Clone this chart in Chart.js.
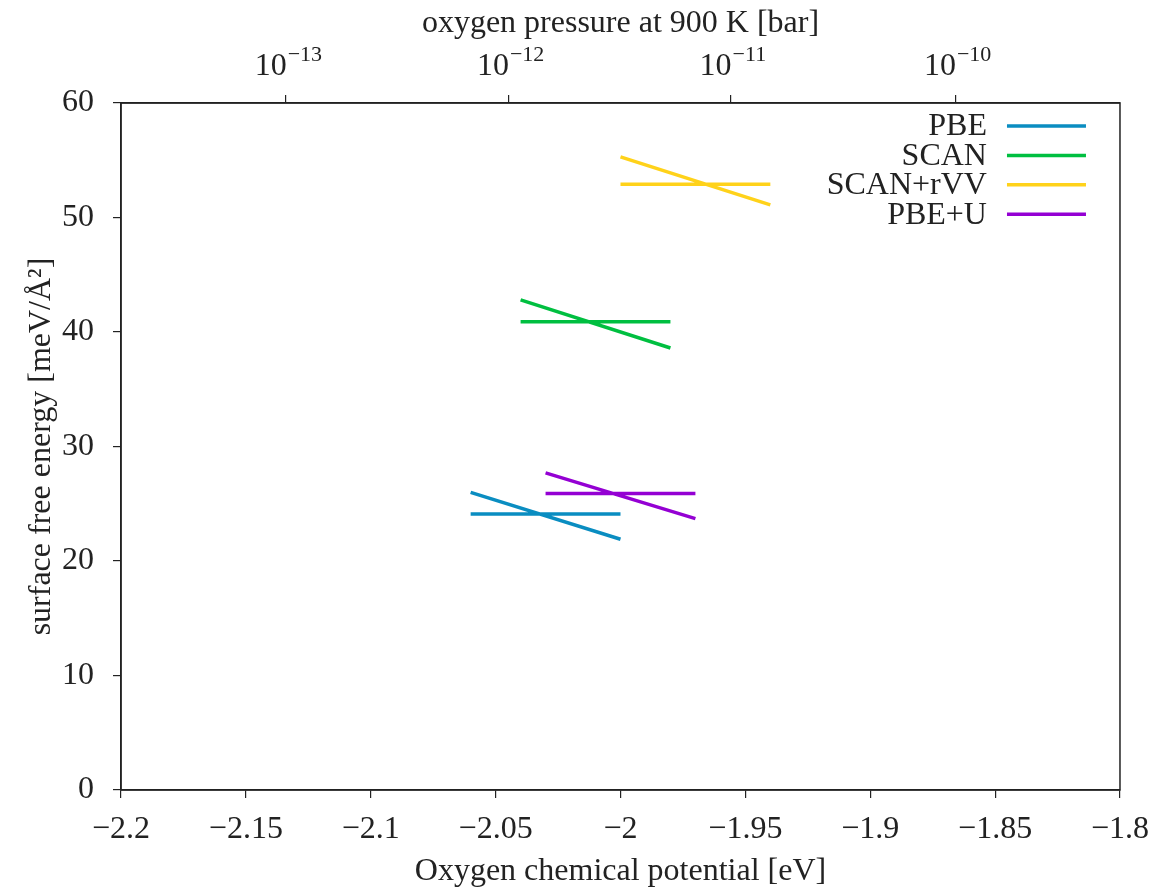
<!DOCTYPE html>
<html>
<head>
<meta charset="utf-8">
<script src="https://cdn.jsdelivr.net/npm/chart.js@4.4.1/dist/chart.umd.min.js"></script>
<style>
  html, body { margin: 0; padding: 0; background: #fff; }
  #wrap { width: 1161px; height: 891px; }
</style>
</head>
<body>
<div id="wrap"><canvas id="myChart" width="1161" height="891"></canvas></div>
<script>
// surface free energy vs oxygen chemical potential
var functionals = ['PBE', 'SCAN', 'SCAN+rVV', 'PBE+U'];
var muStart = [-2.06, -2.04, -2.0, -2.03];
var muEnd = [-2.0, -1.98, -1.94, -1.97];
var flatEnergy = [24.1, 40.9, 52.9, 25.9];
var slopedStart = [26.0, 42.8, 55.3, 27.7];
var slopedEnd = [21.9, 38.6, 51.1, 23.7];
var lineColors = ['#0a8dc1', '#00bf40', '#ffd21a', '#9400d3'];

// top axis: oxygen pressure at 900 K
var pressureExponents = ['−13', '−12', '−11', '−10'];
var pressureTickMu = [-2.134, -2.045, -1.956, -1.866];

var FONT = "'Liberation Serif', 'DejaVu Serif', serif";
var FS = 32;
var INK = '#222';

var datasets = [];
for (var i = 0; i < functionals.length; i++) {
  datasets.push({
    label: functionals[i],
    borderColor: lineColors[i],
    backgroundColor: lineColors[i],
    borderWidth: 3.5,
    pointRadius: 0,
    spanGaps: false,
    data: [
      {x: muStart[i], y: flatEnergy[i]},
      {x: muEnd[i], y: flatEnergy[i]},
      {x: muEnd[i], y: null},
      {x: muStart[i], y: slopedStart[i]},
      {x: muEnd[i], y: slopedEnd[i]}
    ]
  });
}

function minus(v) {
  var r = Math.round(v * 100) / 100;
  return String(r).replace('-', '−');
}

var framePlugin = {
  id: 'frame',
  afterDraw: function(chart) {
    var ctx = chart.ctx, a = chart.chartArea;
    ctx.save();
    ctx.strokeStyle = INK;
    ctx.lineWidth = 1.5;
    ctx.strokeRect(a.left, a.top, a.right - a.left, a.bottom - a.top);

    // top tick labels 10^n
    var x2 = chart.scales.x2;
    ctx.fillStyle = INK;
    ctx.textBaseline = 'alphabetic';
    for (var k = 0; k < pressureTickMu.length; k++) {
      var px = x2.getPixelForValue(pressureTickMu[k]);
      ctx.font = FS + 'px ' + FONT;
      var w1 = ctx.measureText('10').width;
      ctx.font = '22px ' + FONT;
      var w2 = ctx.measureText(pressureExponents[k]).width;
      var x0 = px - (w1 + w2) / 2 + 2;
      ctx.font = FS + 'px ' + FONT;
      ctx.textAlign = 'left';
      ctx.fillText('10', x0, 75);
      ctx.font = '22px ' + FONT;
      ctx.fillText(pressureExponents[k], x0 + w1 + 1, 61);
    }

    // legend, text right aligned with line sample on the right
    ctx.lineWidth = 3.5;
    for (var j = 0; j < chart.data.datasets.length; j++) {
      var ds = chart.data.datasets[j];
      var y = a.top + 23 + j * 29.4;
      ctx.font = FS + 'px ' + FONT;
      ctx.textAlign = 'right';
      ctx.textBaseline = 'middle';
      ctx.fillStyle = INK;
      ctx.fillText(ds.label, a.right - 133, y + 1);
      ctx.strokeStyle = ds.borderColor;
      ctx.beginPath();
      ctx.moveTo(a.right - 113, y);
      ctx.lineTo(a.right - 34, y);
      ctx.stroke();
    }
    ctx.restore();
  }
};

new Chart(document.getElementById('myChart'), {
  type: 'line',
  data: { datasets: datasets },
  plugins: [framePlugin],
  options: {
    responsive: false,
    animation: false,
    devicePixelRatio: 1,
    layout: { padding: { left: 0, right: 41, top: 0, bottom: 0 } },
    plugins: { legend: { display: false }, tooltip: { enabled: false } },
    scales: {
      x: {
        type: 'linear',
        position: 'bottom',
        min: -2.2,
        max: -1.8,
        afterFit: function(s) { s.height = 101; },
        grid: { drawOnChartArea: false, tickLength: 8, color: INK, lineWidth: 1.2 },
        border: { color: INK, width: 1.5 },
        ticks: {
          stepSize: 0.05,
          color: INK,
          font: { family: FONT, size: FS },
          padding: 12,
          maxRotation: 0,
          callback: function(v) { return minus(v); }
        },
        title: {
          display: true,
          text: 'Oxygen chemical potential [eV]',
          color: INK,
          font: { family: FONT, size: FS },
          padding: { top: 0, bottom: 0 }
        }
      },
      x2: {
        type: 'linear',
        position: 'top',
        min: -2.2,
        max: -1.8,
        afterFit: function(s) { s.height = 103; },
        afterBuildTicks: function(s) {
          s.ticks = pressureTickMu.map(function(v) { return {value: v}; });
        },
        grid: { drawOnChartArea: false, tickLength: 8, color: INK, lineWidth: 1.2 },
        border: { color: INK, width: 1.5 },
        ticks: {
          autoSkip: false,
          color: INK,
          font: { family: FONT, size: FS },
          callback: function() { return ''; }
        },
        title: {
          display: true,
          text: 'oxygen pressure at 900 K [bar]',
          color: INK,
          font: { family: FONT, size: FS },
          padding: { top: 4, bottom: 0 }
        }
      },
      y: {
        type: 'linear',
        position: 'left',
        min: 0,
        max: 60,
        afterFit: function(s) { s.width = 121; },
        grid: { drawOnChartArea: false, tickLength: 8, color: INK, lineWidth: 1.2 },
        border: { color: INK, width: 1.5 },
        ticks: {
          stepSize: 10,
          color: INK,
          font: { family: FONT, size: FS },
          padding: 19
        },
        title: {
          display: true,
          text: 'surface free energy [meV/Å²]',
          color: INK,
          font: { family: FONT, size: FS },
          padding: { top: 22, bottom: 0 }
        }
      }
    }
  }
});
</script>
</body>
</html>
